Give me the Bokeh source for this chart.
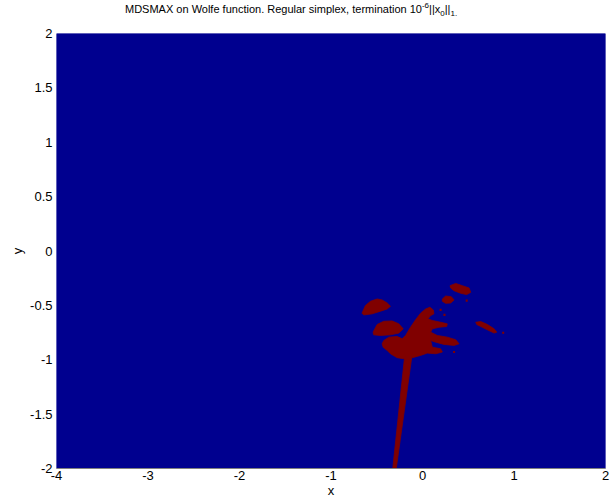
from bokeh.plotting import figure
from bokeh.models import Range1d, FixedTicker, Div
from bokeh.layouts import column
from bokeh.embed import file_html
from bokeh.resources import INLINE

# ---- data -------------------------------------------------------------
x_extent = [-4.0, 2.0]
y_extent = [-2.0, 2.0]
x_ticks = [-4, -3, -2, -1, 0, 1, 2]
x_tick_labels = ["-4", "-3", "-2", "-1", "0", "1", "2"]
y_ticks = [-2, -1.5, -1, -0.5, 0, 0.5, 1, 1.5, 2]
y_tick_labels = ["-2", "-1.5", "-1", "-0.5", "0", "0.5", "1", "1.5", "2"]
title_main = "MDSMAX on Wolfe function. Regular simplex, termination 10"
title_exp = "-6"
title_norm = ["||x", "0", "||", "1", "."]

# red (high value) regions, traced outlines in data coordinates
blob_a_x = [-0.661, -0.624, -0.569, -0.496, -0.441, -0.386, -0.350, -0.386, -0.460, -0.551, -0.642]
blob_a_y = [-0.572, -0.502, -0.463, -0.441, -0.450, -0.478, -0.508, -0.533, -0.554, -0.578, -0.588]

blob_b_x = [-0.540, -0.496, -0.423, -0.332, -0.259, -0.211, -0.259, -0.350, -0.460, -0.533]
blob_b_y = [-0.746, -0.676, -0.646, -0.643, -0.670, -0.716, -0.755, -0.771, -0.777, -0.771]

body_x = [-0.423, -0.368, -0.277, -0.222, -0.185, -0.131, -0.076, -0.021, 0.034, 0.081,
          0.118, 0.125, 0.089, 0.059, 0.107, 0.198, 0.271, 0.264, 0.180, 0.107,
          0.089, 0.162, 0.271, 0.363, 0.399, 0.345, 0.235, 0.144, 0.089, 0.107,
          0.198, 0.217, 0.144, 0.052, -0.021, -0.112, -0.204, -0.277, -0.350, -0.386,
          -0.430, -0.441]
body_y = [-0.823, -0.792, -0.786, -0.807, -0.777, -0.701, -0.633, -0.572, -0.533, -0.517,
          -0.542, -0.578, -0.594, -0.624, -0.639, -0.655, -0.670, -0.694, -0.701, -0.716,
          -0.746, -0.777, -0.792, -0.816, -0.853, -0.868, -0.859, -0.838, -0.823, -0.884,
          -0.899, -0.929, -0.945, -0.939, -0.960, -0.981, -0.990, -0.981, -0.945, -0.914,
          -0.884, -0.853]

stem_x = [-0.193, -0.113, -0.287, -0.325]
stem_y = [-0.950, -0.950, -2.000, -2.000]

blob_c_x = [0.301, 0.363, 0.436, 0.509, 0.527, 0.483, 0.418, 0.345, 0.308]
blob_c_y = [-0.319, -0.298, -0.319, -0.340, -0.380, -0.401, -0.389, -0.365, -0.340]

blob_d_x = [0.217, 0.253, 0.315, 0.345, 0.308, 0.253, 0.217]
blob_d_y = [-0.441, -0.414, -0.420, -0.450, -0.478, -0.481, -0.463]

streak_x = [0.582, 0.637, 0.710, 0.783, 0.812, 0.783, 0.710, 0.637, 0.593]
streak_y = [-0.655, -0.649, -0.676, -0.716, -0.746, -0.755, -0.725, -0.694, -0.676]

dot_x = [0.882, 0.483, 0.345, 0.198, 0.240]
dot_y = [-0.752, -0.456, -0.929, -0.542, -0.587]

low_color = "#00008F"
high_color = "#800000"
font = "Liberation Sans"

# ---- title (HTML, so that the exponent and subscripts are real super/subscripts)
small = "font-size:8px;"
title_html = (
    '<div style="padding-top:4px;padding-left:125px;line-height:11px;white-space:nowrap;">'
    f'<span>{title_main}</span>'
    f'<span style="{small}position:relative;top:-5px;">{title_exp}</span>'
    f'<span>{title_norm[0]}</span>'
    f'<span style="{small}position:relative;top:3px;">{title_norm[1]}</span>'
    f'<span>{title_norm[2]}</span>'
    f'<span style="{small}position:relative;top:3px;">{title_norm[3]}</span>'
    f'<span style="{small}position:relative;top:3px;">{title_norm[4]}</span>'
    '</div>'
)
title_div = Div(text=title_html, width=612, height=24, margin=0,
                styles={"font-family": font, "font-size": "11px", "color": "black"})

# ---- figure -------------------------------------------------------------
p = figure(width=612, height=476, margin=0,
           x_range=Range1d(x_extent[0], x_extent[1]),
           y_range=Range1d(y_extent[0], y_extent[1]),
           output_backend="svg", toolbar_location=None,
           min_border_left=56, min_border_right=7,
           min_border_top=9, min_border_bottom=32)

p.background_fill_color = low_color
p.border_fill_color = "white"
p.outline_line_color = None
p.grid.visible = False

p.quad(left=[x_extent[0]], right=[x_extent[1]], bottom=[y_extent[0]], top=[y_extent[1]],
       fill_color=low_color, line_color=None)

p.patches(xs=[blob_a_x, blob_b_x, body_x, stem_x, blob_c_x, blob_d_x, streak_x],
          ys=[blob_a_y, blob_b_y, body_y, stem_y, blob_c_y, blob_d_y, streak_y],
          fill_color=high_color, line_color=high_color, line_width=0.8)
p.rect(x=dot_x, y=dot_y, width=0.022, height=0.02, fill_color=high_color, line_color=None)

p.xaxis.ticker = FixedTicker(ticks=x_ticks)
p.xaxis.major_label_overrides = {t: s for t, s in zip(x_ticks, x_tick_labels)}
p.yaxis.ticker = FixedTicker(ticks=y_ticks)
p.yaxis.major_label_overrides = {t: s for t, s in zip(y_ticks, y_tick_labels)}

for ax in (p.xaxis[0], p.yaxis[0]):
    ax.major_label_text_font = font
    ax.major_label_text_font_size = "13px"
    ax.major_label_text_color = "black"
    ax.axis_label_text_font = font
    ax.axis_label_text_font_size = "13px"
    ax.axis_label_text_font_style = "normal"
    ax.axis_label_text_color = "black"
    ax.major_tick_line_color = None
    ax.minor_tick_line_color = None
    ax.major_tick_out = 0
    ax.major_tick_in = 0
    ax.minor_tick_out = 0
    ax.minor_tick_in = 0

p.xaxis.axis_label = "x"
p.yaxis.axis_label = "y"
p.xaxis.axis_line_color = "#808080"
p.yaxis.axis_line_color = None
p.xaxis.major_label_standoff = 2
p.xaxis.axis_label_standoff = 0
p.yaxis.major_label_standoff = 4
p.yaxis.axis_label_standoff = 2

layout = column(title_div, p, spacing=0, margin=0)
open("out.html", "w").write(file_html(layout, INLINE))
